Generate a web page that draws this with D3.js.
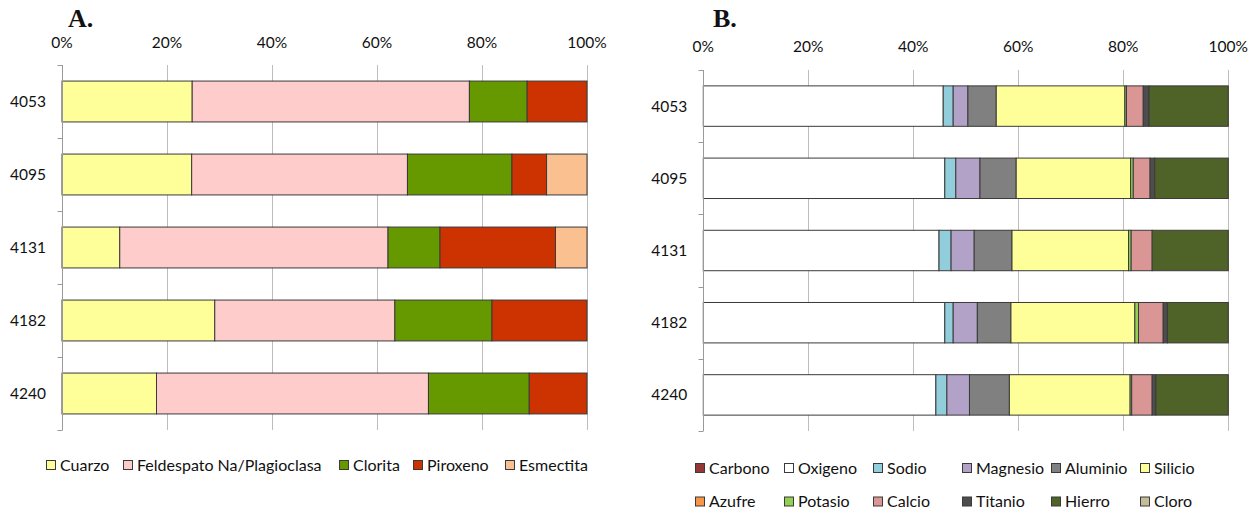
<!DOCTYPE html>
<html><head><meta charset="utf-8">
<script src="https://cdn.jsdelivr.net/npm/d3@7"></script>
<style>
body{margin:0;background:#fff;}
svg{display:block;}
text{font-family:Lato,"Open Sans",sans-serif;fill:#111;}
</style></head>
<body><svg id="c" width="1256" height="510"></svg>
<script>
// ---- data ----
const categories = ["4053","4095","4131","4182","4240"];
const tickLabels = ["0%","20%","40%","60%","80%","100%"];

// Chart A (mineral composition, %)
const mineralNames = ["Cuarzo","Feldespato Na/Plagioclasa","Clorita","Piroxeno","Esmectita"];
const cuarzo     = [24.8, 24.7, 11.0, 29.1, 18.0];
const feldespato = [52.8, 41.1, 51.1, 34.3, 51.8];
const clorita    = [11.0, 19.9,  9.9, 18.5, 19.2];
const piroxeno   = [11.4,  6.6, 22.0, 18.1, 11.0];
const esmectita  = [ 0.0,  7.7,  6.0,  0.0,  0.0];
const mineralColors = ["#FFFF99","#FFCCCC","#669900","#CC3300","#FAC090"];

// Chart B (elemental composition, %)
const elementNames = ["Carbono","Oxigeno","Sodio","Magnesio","Aluminio","Silicio","Azufre","Potasio","Calcio","Titanio","Hierro","Cloro"];
const carbono  = [0, 0, 0, 0, 0];
const oxigeno  = [45.7, 46.0, 44.9, 46.0, 44.3];
const sodio    = [ 1.9,  2.1,  2.3,  1.6,  2.1];
const magnesio = [ 2.8,  4.6,  4.4,  4.6,  4.3];
const aluminio = [ 5.4,  6.9,  7.2,  6.4,  7.6];
const silicio  = [24.5, 21.8, 22.2, 23.6, 23.0];
const azufre   = [0, 0, 0, 0, 0];
const potasio  = [ 0.3,  0.5,  0.5,  0.7,  0.3];
const calcio   = [ 3.2,  3.2,  4.0,  4.7,  3.9];
const titanio  = [ 1.1,  0.9,  0.0,  0.8,  0.7];
const hierro   = [15.1, 14.0, 14.5, 11.6, 13.8];
const cloro    = [0, 0, 0, 0, 0];
const elementColors = ["#953735","#FFFFFF","#92CDDC","#B3A2C7","#808080","#FFFF99","#F79646","#92D050","#DA9694","#4D4D4D","#4F6228","#C4BD97"];

// ---- build tables ----
const mineralSeries = [cuarzo, feldespato, clorita, piroxeno, esmectita];
const elementSeries = [carbono, oxigeno, sodio, magnesio, aluminio, silicio, azufre, potasio, calcio, titanio, hierro, cloro];
function table(names, series){
  return categories.map((c,i)=>{const o={cat:c}; names.forEach((n,j)=>o[n]=series[j][i]); return o;});
}
const tableA = table(mineralNames, mineralSeries);
const tableB = table(elementNames, elementSeries);

const svg = d3.select("#c");

function drawChart(opts){
  const {x0,x1,y0,y1,names,colors,data,title,titleX,tickY} = opts;
  const g = svg.append("g");
  const x = d3.scaleLinear().domain([0,100]).range([x0,x1]);
  const y = d3.scaleBand().domain(categories).range([y0,y1]).paddingInner(0.44).paddingOuter(0.22);
  const ticks = d3.range(0,101,20);
  // gridlines
  g.selectAll("line.grid").data(ticks.slice(1)).join("line")
    .attr("x1",d=>Math.round(x(d))+0.5).attr("x2",d=>Math.round(x(d))+0.5)
    .attr("y1",y0).attr("y2",y1).attr("stroke","#BDBDBD").attr("stroke-width",1);
  // tick labels (top)
  g.selectAll("text.tick").data(ticks).join("text")
    .attr("x",d=>x(d)).attr("y",tickY).attr("text-anchor","middle")
    .style("font-size","15.5px").text((d,i)=>tickLabels[i]);
  // bars
  const stack = d3.stack().keys(names)(data);
  stack.forEach((s,k)=>{
    g.selectAll(null).data(s.filter(d=>d[1]-d[0]>0)).join("rect")
      .attr("x",d=>x(d[0])).attr("width",d=>x(d[1])-x(d[0]))
      .attr("y",d=>y(d.data.cat)).attr("height",y.bandwidth())
      .attr("fill",colors[k]).attr("stroke","#3a3a3a").attr("stroke-width",1);
  });
  // y axis line and ticks
  const ax = Math.round(x0)+0.5;
  g.append("line").attr("x1",ax).attr("x2",ax).attr("y1",y0).attr("y2",y1).attr("stroke","#9a9a9a");
  const bounds = d3.range(categories.length+1).map(i=>y0+i*y.step());
  g.selectAll("line.yt").data(bounds).join("line")
    .attr("x1",ax-5).attr("x2",ax).attr("y1",d=>Math.round(d)+0.5).attr("y2",d=>Math.round(d)+0.5)
    .attr("stroke","#9a9a9a");
  // category labels
  g.selectAll("text.cat").data(categories).join("text")
    .attr("x",x0-16).attr("y",d=>y(d)+y.bandwidth()/2).attr("dy","0.35em")
    .attr("text-anchor","end").style("font-size","15.5px").text(d=>d);
  // title
  g.append("text").attr("x",titleX).attr("y",27)
    .style("font-family","'Liberation Serif','Times New Roman',serif").style("font-weight","bold")
    .style("font-size","26px").text(title);
  return g;
}

drawChart({x0:62,x1:587,y0:65,y1:430,names:mineralNames,colors:mineralColors,data:tableA,title:"A.",titleX:68,tickY:48});
drawChart({x0:703.3,x1:1228.3,y0:70,y1:431,names:elementNames,colors:elementColors,data:tableB,title:"B.",titleX:713,tickY:52});

// legend A
const legA = svg.append("g");
const legAx = [46,123,339,413,505];
mineralNames.forEach((n,i)=>{
  legA.append("rect").attr("x",legAx[i]+0.5).attr("y",460.5).attr("width",9).attr("height",9)
    .attr("fill",mineralColors[i]).attr("stroke","#3a3a3a");
  legA.append("text").attr("x",legAx[i]+14).attr("y",465).attr("dy","0.35em").style("font-size","16px").text(n);
});
// legend B (6 columns x 2 rows)
const legB = svg.append("g");
elementNames.forEach((n,i)=>{
  const col = i%6, row = Math.floor(i/6);
  const lx = 695 + col*89, ly = row? 501.5 : 468;
  legB.append("rect").attr("x",lx+0.5).attr("y",ly-4.5).attr("width",9).attr("height",9)
    .attr("fill",elementColors[i]).attr("stroke","#3a3a3a");
  legB.append("text").attr("x",lx+14).attr("y",ly).attr("dy","0.35em").style("font-size","16px").text(n);
});
</script></body></html>
